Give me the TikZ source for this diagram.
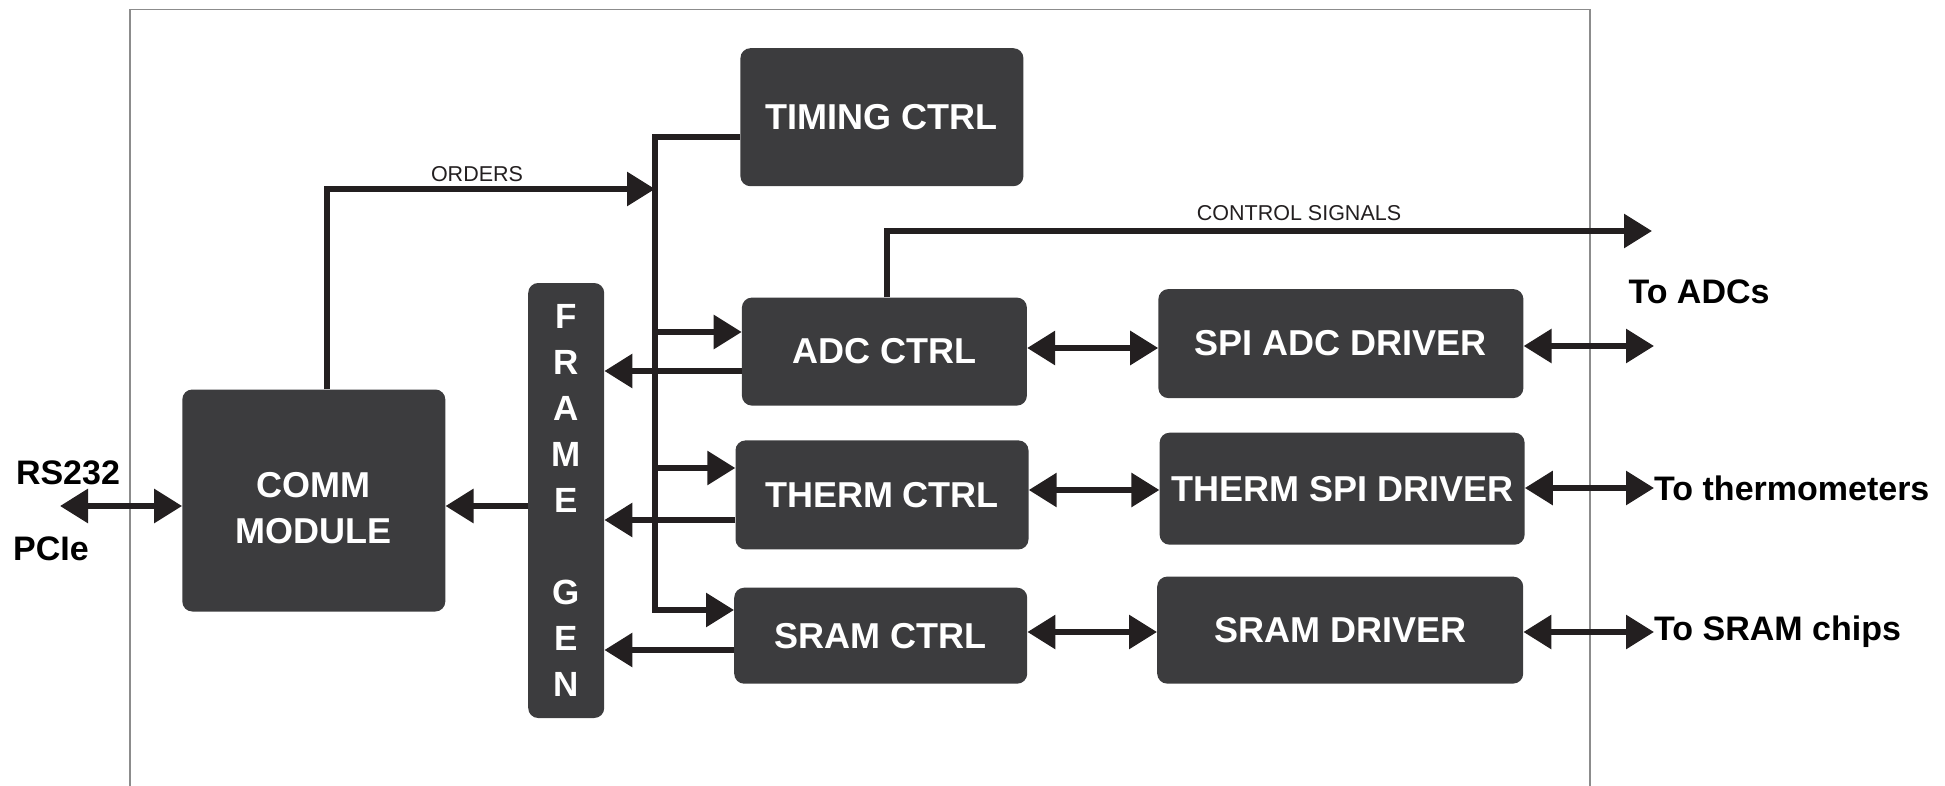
\documentclass[tikz,border=0pt]{standalone}
\usepackage{fontspec}
\setmainfont{Liberation Sans}
\usetikzlibrary{arrows.meta}
\definecolor{boxgray}{HTML}{3C3C3E}
\definecolor{ink}{HTML}{231F20}
\definecolor{framegray}{HTML}{8C8C8C}
\begin{document}
\begin{tikzpicture}[x=1pt,y=-1pt,
  box/.style={fill=boxgray, rounded corners=10pt, text=white, font=\fontsize{36}{46}\selectfont\bfseries, align=center, inner sep=0pt},
  conn/.style={draw=ink, line width=6pt},
  arr/.style={conn, -{Triangle[length=28pt,width=33pt]}},
  darr/.style={conn, {Triangle[length=28pt,width=33pt]}-{Triangle[length=28pt,width=33pt]}},
  small/.style={font=\fontsize{21.5}{24}\selectfont, text=ink, inner sep=0pt},
  extlabel/.style={font=\fontsize{34}{40}\selectfont\bfseries, text=black, inner sep=0pt}
]
\useasboundingbox (0,0) rectangle (1945,786);
\draw[framegray, line width=1.6pt] (130,786) -- (130,9.5) -- (1590,9.5) -- (1590,786);

% blocks
\node[box, minimum width=283pt, minimum height=138pt] (timing) at (881.9,117.2) {TIMING CTRL};
\node[box, minimum width=285pt, minimum height=108pt] (adc) at (884.4,351.6) {ADC CTRL};
\node[box, minimum width=293pt, minimum height=109pt] (therm) at (882,494.9) {THERM CTRL};
\node[box, minimum width=293pt, minimum height=96pt] (sram) at (880.7,635.7) {SRAM CTRL};
\node[box, minimum width=365pt, minimum height=109pt] (spiadc) at (1340.9,343.6) {SPI ADC DRIVER};
\node[box, minimum width=365pt, minimum height=112pt] (thermspi) at (1342.1,488.7) {THERM SPI DRIVER};
\node[box, minimum width=366pt, minimum height=107pt] (sramdrv) at (1340.2,630.1) {SRAM DRIVER};
\node[box, minimum width=263pt, minimum height=222pt] (comm) at (313.8,500.5) {\mbox{}\\[-6pt]COMM\\MODULE};
\node[box, minimum width=76pt, minimum height=435pt, font=\fontsize{35}{46}\selectfont\bfseries] (frame) at (566.2,500.5) {F\\R\\A\\M\\E\\[46pt]G\\E\\N};

% bus
\coordinate (bustop) at (655,137);
\coordinate (busbot) at (655,610);
\draw[arr] (timing.west |- bustop) -- (bustop) -- (busbot) -- (sram.west |- busbot);

% orders
\coordinate (ordturn) at (327,189);
\draw[arr] (ordturn |- comm.north) -- (ordturn) -- (bustop |- ordturn);
\node[small] (orders) at (477,174) {ORDERS};

% branches
\draw[arr] (bustop |- 0,332) -- (adc.west |- 0,332);
\draw[arr] (bustop |- 0,468) -- (therm.west |- 0,468);

% back to frame gen
\draw[arr] (adc.west |- 0,371) -- (frame.east |- 0,371);
\draw[arr] (therm.west |- 0,520) -- (frame.east |- 0,520);
\draw[arr] (sram.west |- 0,650) -- (frame.east |- 0,650);
\draw[arr] (frame.west |- 0,506) -- (comm.east |- 0,506);

% host side
\coordinate (hostend) at (60,506);
\draw[darr] (hostend) -- (comm.west |- hostend);
\node[extlabel] (rs) at (68,473) {RS232};
\node[extlabel] (pcie) at (51,549) {PCIe};

% ctrl <-> driver
\draw[darr] (adc.east |- 0,348) -- (spiadc.west |- 0,348);
\draw[darr] (therm.east |- 0,490) -- (thermspi.west |- 0,490);
\draw[darr] (sram.east |- 0,632) -- (sramdrv.west |- 0,632);

% control signals
\coordinate (csturn) at (887,231);
\coordinate (csend) at (1652,231);
\draw[arr] (csturn |- adc.north) -- (csturn) -- (csend);
\node[small] (cslabel) at (1299,213) {CONTROL SIGNALS};

% outputs
\coordinate (adcout) at (1654,346);
\draw[darr] (spiadc.east |- adcout) -- (adcout);
\node[extlabel] (toadc) at (1699,292) {To ADCs};
\coordinate (thout) at (1654,488);
\draw[darr] (thermspi.east |- thout) -- (thout);
\node[extlabel, anchor=west] (toth) at (thout) {To thermometers};
\coordinate (srout) at (1654,632);
\draw[darr] (sramdrv.east |- srout) -- (srout);
\node[extlabel, anchor=west] (tosr) at (srout) {To SRAM chips};
\end{tikzpicture}
\end{document}
